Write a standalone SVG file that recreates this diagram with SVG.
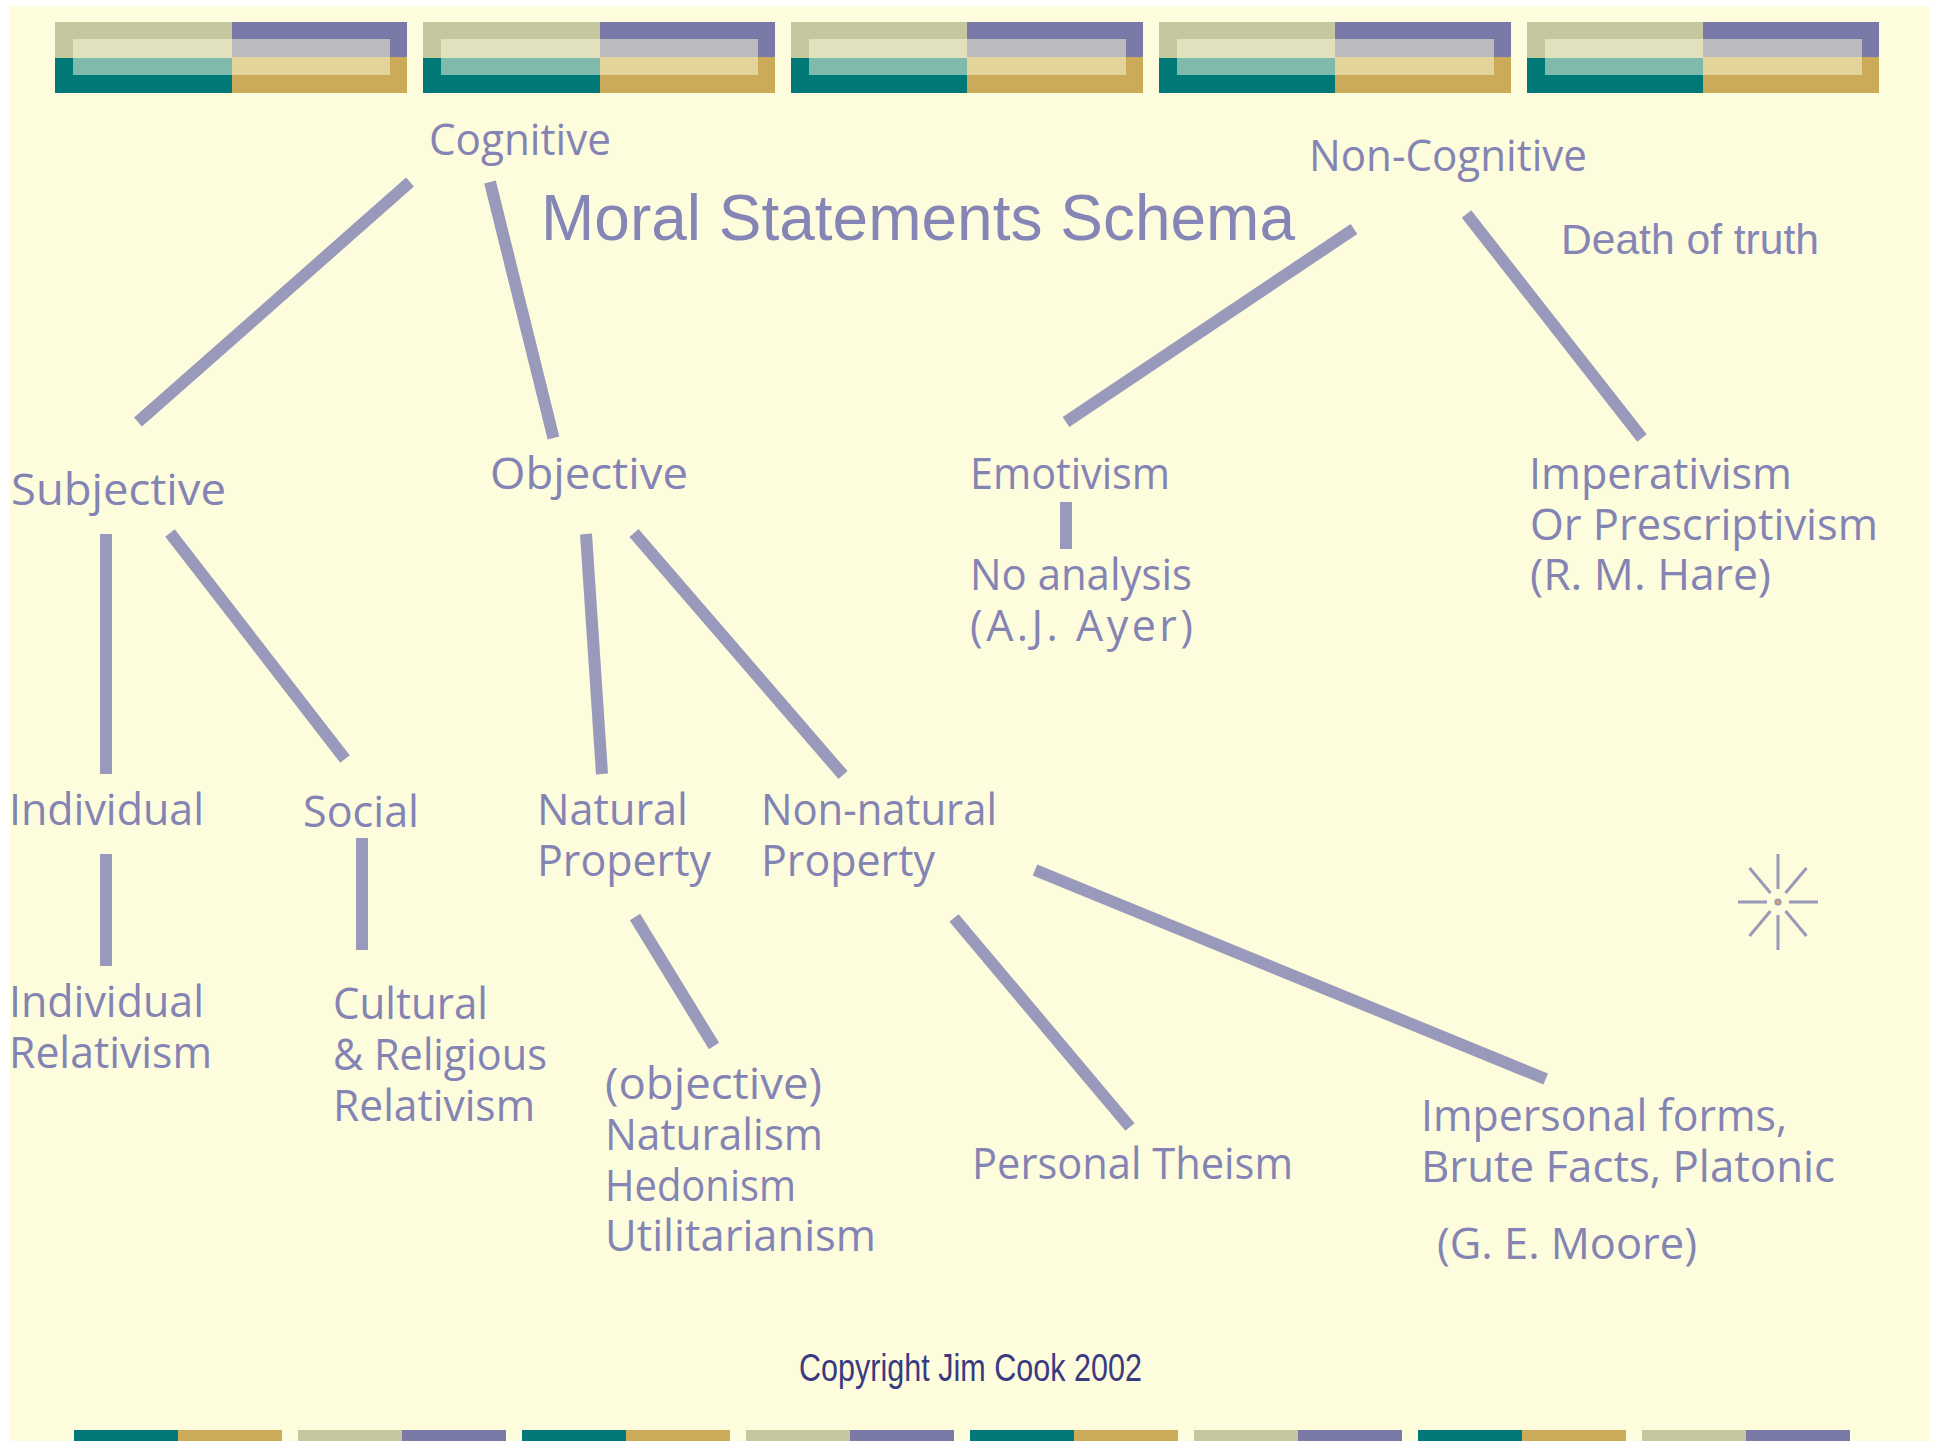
<svg xmlns="http://www.w3.org/2000/svg" width="1939" height="1441" viewBox="0 0 1939 1441">
<style>
.n{font-family:"Open Sans","Noto Sans","DejaVu Sans",sans-serif;font-size:43px;fill:#8484b4}
.a{font-family:"Liberation Sans",Arial,sans-serif;fill:#8686b6}
.c{stroke:#9999bb;stroke-width:12;fill:none}
.r{stroke:#9999bb;stroke-width:3;fill:none}
</style>
<defs>
<g id="tile">
<rect x="0" y="0" width="177" height="36" fill="#c6c79f"/>
<rect x="177" y="0" width="175" height="35" fill="#7a7aa8"/>
<rect x="0" y="36" width="177" height="35" fill="#007878"/>
<rect x="177" y="35" width="175" height="36" fill="#cbaa5a"/>
<rect x="18" y="17" width="317" height="36" fill="#fdfcdc" fill-opacity="0.5"/>
</g>
<g id="tile2">
<rect x="0" y="0" width="176" height="36" fill="#c6c79f"/>
<rect x="176" y="0" width="176" height="35" fill="#7a7aa8"/>
<rect x="0" y="36" width="176" height="35" fill="#007878"/>
<rect x="176" y="35" width="176" height="36" fill="#cbaa5a"/>
<rect x="18" y="17" width="317" height="36" fill="#fdfcdc" fill-opacity="0.5"/>
</g>
<g id="btile-a">
<rect x="0" y="0" width="104" height="11" fill="#007878"/>
<rect x="104" y="0" width="104" height="11" fill="#cbaa5a"/>
</g>
<g id="btile-b">
<rect x="0" y="0" width="104" height="11" fill="#c6c79f"/>
<rect x="104" y="0" width="104" height="11" fill="#7a7aa8"/>
</g>
</defs>
<rect width="1939" height="1441" fill="#ffffff"/>
<rect x="10" y="6" width="1920" height="1435" fill="#fdfcdc"/>
<g id="top-band">
<use href="#tile" x="55" y="22"/>
<use href="#tile" x="423" y="22"/>
<use href="#tile2" x="791" y="22"/>
<use href="#tile2" x="1159" y="22"/>
<use href="#tile2" x="1527" y="22"/>
</g>
<g id="bottom-band">
<use href="#btile-a" x="74" y="1430"/>
<use href="#btile-b" x="298" y="1430"/>
<use href="#btile-a" x="522" y="1430"/>
<use href="#btile-b" x="746" y="1430"/>
<use href="#btile-a" x="970" y="1430"/>
<use href="#btile-b" x="1194" y="1430"/>
<use href="#btile-a" x="1418" y="1430"/>
<use href="#btile-b" x="1642" y="1430"/>
</g>
<g id="connectors">
<line class="c" x1="410" y1="182" x2="138" y2="422"/>
<line class="c" x1="490" y1="182" x2="553.5" y2="438"/>
<line class="c" x1="1354" y1="229" x2="1066" y2="422"/>
<line class="c" x1="1466.5" y1="214" x2="1642" y2="438"/>
<line class="c" x1="106" y1="534" x2="106" y2="774"/>
<line class="c" x1="170" y1="533" x2="345" y2="759"/>
<line class="c" x1="586" y1="534" x2="602" y2="774"/>
<line class="c" x1="634" y1="533" x2="843" y2="775"/>
<line class="c" x1="1066" y1="502" x2="1066" y2="549"/>
<line class="c" x1="106" y1="854" x2="106" y2="966"/>
<line class="c" x1="362" y1="838" x2="362" y2="950"/>
<line class="c" x1="635" y1="917" x2="714" y2="1046"/>
<line class="c" x1="954" y1="918" x2="1130" y2="1127"/>
<line class="c" x1="1035" y1="870" x2="1545.7" y2="1079"/>
</g>
<g id="title"><text class="a" x="541" y="240" font-size="65" textLength="754" lengthAdjust="spacingAndGlyphs">Moral Statements Schema</text></g>
<g id="death-of-truth"><text class="a" x="1561" y="254" font-size="43" textLength="258" lengthAdjust="spacingAndGlyphs">Death of truth</text></g>
<g id="copyright"><text class="a" x="799" y="1381" font-size="38" textLength="343" lengthAdjust="spacingAndGlyphs" style="fill:#3a3a80">Copyright Jim Cook 2002</text></g>
<g id="cognitive"><text class="n" x="429" y="155" textLength="182" lengthAdjust="spacingAndGlyphs">Cognitive</text></g>
<g id="non-cognitive"><text class="n" x="1309" y="171" textLength="278" lengthAdjust="spacingAndGlyphs">Non-Cognitive</text></g>
<g id="subjective"><text class="n" x="11" y="505" textLength="215" lengthAdjust="spacingAndGlyphs">Subjective</text></g>
<g id="objective"><text class="n" x="490" y="489" textLength="198" lengthAdjust="spacingAndGlyphs">Objective</text></g>
<g id="emotivism"><text class="n" x="970" y="489" textLength="200" lengthAdjust="spacingAndGlyphs">Emotivism</text></g>
<g id="no-analysis">
<text class="n" x="970" y="590" textLength="222" lengthAdjust="spacingAndGlyphs">No analysis</text>
<text class="n" x="970" y="641" textLength="223" lengthAdjust="spacing">(A.J. Ayer)</text>
</g>
<g id="imperativism">
<text class="n" x="1529" y="489" textLength="263" lengthAdjust="spacingAndGlyphs">Imperativism</text>
<text class="n" x="1530" y="540" textLength="348" lengthAdjust="spacingAndGlyphs">Or Prescriptivism</text>
<text class="n" x="1530" y="590" textLength="241" lengthAdjust="spacingAndGlyphs">(R. M. Hare)</text>
</g>
<g id="individual"><text class="n" x="9" y="825" textLength="195" lengthAdjust="spacingAndGlyphs">Individual</text></g>
<g id="social"><text class="n" x="303" y="827" textLength="116" lengthAdjust="spacingAndGlyphs">Social</text></g>
<g id="natural-property">
<text class="n" x="537" y="825" textLength="151" lengthAdjust="spacingAndGlyphs">Natural</text>
<text class="n" x="537" y="876" textLength="174" lengthAdjust="spacingAndGlyphs">Property</text>
</g>
<g id="non-natural-property">
<text class="n" x="761" y="825" textLength="236" lengthAdjust="spacingAndGlyphs">Non-natural</text>
<text class="n" x="761" y="876" textLength="174" lengthAdjust="spacingAndGlyphs">Property</text>
</g>
<g id="individual-relativism">
<text class="n" x="9" y="1017" textLength="195" lengthAdjust="spacingAndGlyphs">Individual</text>
<text class="n" x="9" y="1068" textLength="203" lengthAdjust="spacingAndGlyphs">Relativism</text>
</g>
<g id="cultural-relativism">
<text class="n" x="333" y="1019" textLength="155" lengthAdjust="spacingAndGlyphs">Cultural</text>
<text class="n" x="333" y="1070" textLength="214" lengthAdjust="spacingAndGlyphs">&amp; Religious</text>
<text class="n" x="333" y="1121" textLength="202" lengthAdjust="spacingAndGlyphs">Relativism</text>
</g>
<g id="naturalism">
<text class="n" x="605" y="1099" textLength="217" lengthAdjust="spacingAndGlyphs">(objective)</text>
<text class="n" x="605" y="1150" textLength="218" lengthAdjust="spacingAndGlyphs">Naturalism</text>
<text class="n" x="605" y="1201" textLength="191" lengthAdjust="spacingAndGlyphs">Hedonism</text>
<text class="n" x="605" y="1251" textLength="271" lengthAdjust="spacingAndGlyphs">Utilitarianism</text>
</g>
<g id="personal-theism"><text class="n" x="972" y="1179" textLength="321" lengthAdjust="spacingAndGlyphs">Personal Theism</text></g>
<g id="impersonal-forms">
<text class="n" x="1421" y="1131" textLength="366" lengthAdjust="spacingAndGlyphs">Impersonal forms,</text>
<text class="n" x="1421" y="1182" textLength="414" lengthAdjust="spacingAndGlyphs">Brute Facts, Platonic</text>
<text class="n" x="1437" y="1259" textLength="260" lengthAdjust="spacingAndGlyphs">(G. E. Moore)</text>
</g>
<g id="star">
<line class="r" x1="1778" y1="854" x2="1778" y2="889"/>
<line class="r" x1="1778" y1="915" x2="1778" y2="950"/>
<line class="r" x1="1738" y1="902" x2="1767" y2="902"/>
<line class="r" x1="1789" y1="902" x2="1818" y2="902"/>
<line class="r" x1="1749.5" y1="868" x2="1770.5" y2="893"/>
<line class="r" x1="1806.5" y1="868" x2="1785.5" y2="893"/>
<line class="r" x1="1749.5" y1="936" x2="1770.5" y2="911"/>
<line class="r" x1="1806.5" y1="936" x2="1785.5" y2="911"/>
<circle cx="1778" cy="902" r="3.6" fill="#9999bb"/>
<circle cx="1778" cy="902" r="1.8" fill="#f0a050"/>
</g>
</svg>
